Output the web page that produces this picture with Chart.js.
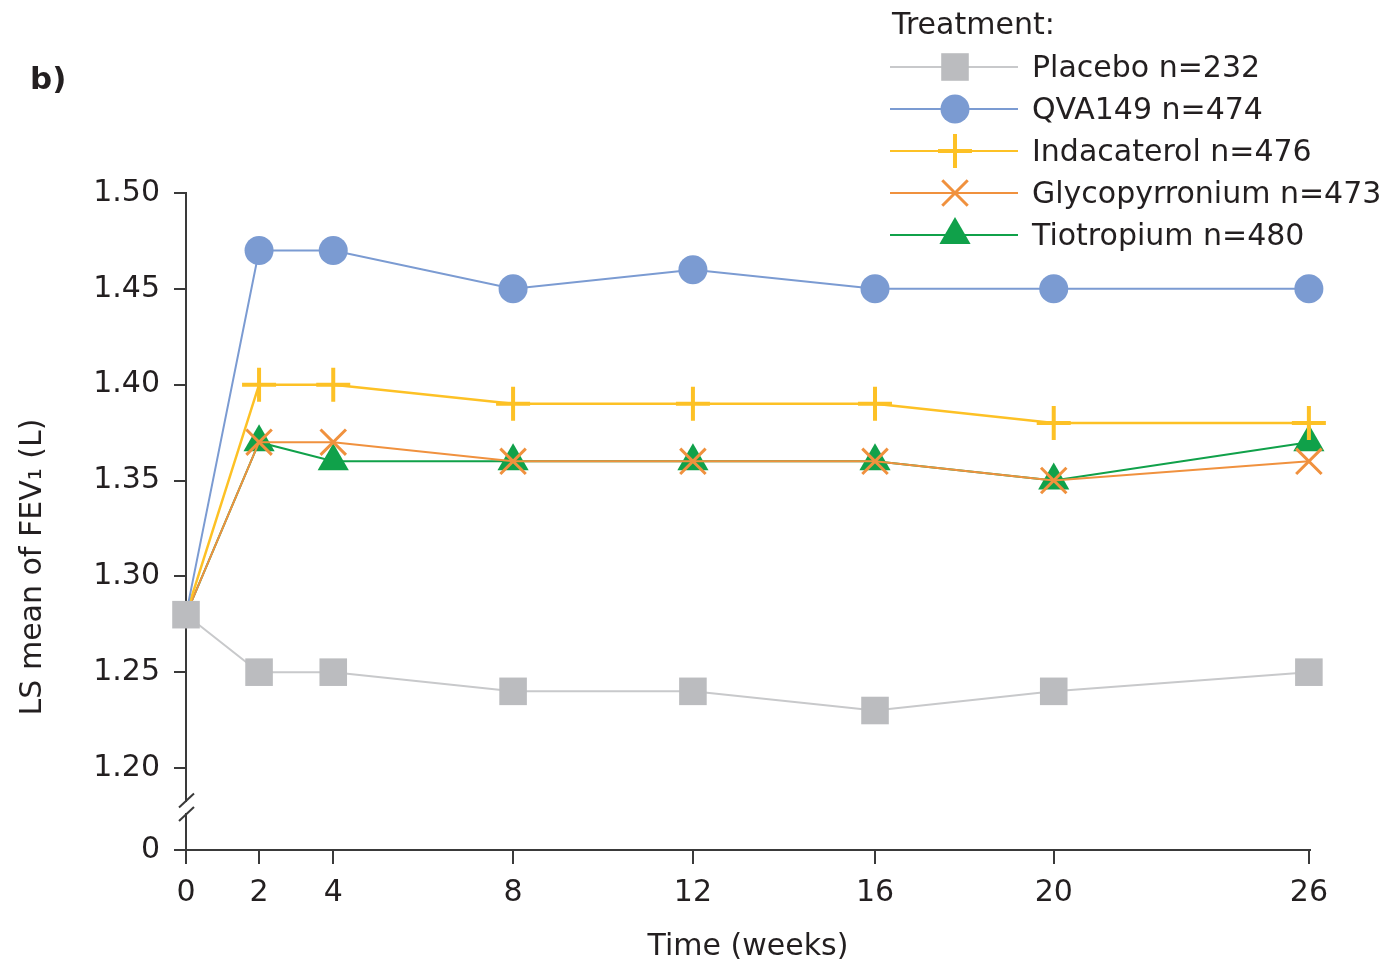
<!DOCTYPE html>
<html lang="en">
<head>
    <meta charset="UTF-8">
    <title>LS mean of FEV1 over time</title>
    <script src="https://cdn.jsdelivr.net/npm/chart.js"></script>
    <style>
        body, html { margin: 0; padding: 0; background: #fff; }
        #wrap { width: 1394px; height: 969px; }
    </style>
</head>
<body>
    <div id="wrap"><canvas id="fev" width="1394" height="969"></canvas></div>

    <script>
        // data
        var weeks = [0, 2, 4, 8, 12, 16, 20, 26];
        var yTicks = [0, 1.20, 1.25, 1.30, 1.35, 1.40, 1.45, 1.50];

        var placebo     = [1.28, 1.25, 1.25, 1.24, 1.24, 1.23, 1.24, 1.25];
        var qva149      = [1.28, 1.47, 1.47, 1.45, 1.46, 1.45, 1.45, 1.45];
        var indacaterol = [1.28, 1.40, 1.40, 1.39, 1.39, 1.39, 1.38, 1.38];
        var glyco       = [1.28, 1.37, 1.37, 1.36, 1.36, 1.36, 1.35, 1.36];
        var tiotropium  = [1.28, 1.37, 1.36, 1.36, 1.36, 1.36, 1.35, 1.37];

        var seriesNames = ['Placebo n=232', 'QVA149 n=474', 'Indacaterol n=476', 'Glycopyrronium n=473', 'Tiotropium n=480'];

        // axis layout: where each break value sits along the axis (0..1)
        var axisStops = {
            x: { values: [0, 2, 4, 8, 12, 16, 20, 26], fracs: [0, 0.065, 0.131, 0.291, 0.451, 0.613, 0.772, 0.999] },
            y: { values: [0, 1.20, 1.50], fracs: [0, 0.1248, 1] }
        };

        var FONT = "'DejaVu Sans', sans-serif";
        var INK = '#231f20';

        // linear scale with uneven spacing between stops (also gives the y break)
        class StopScale extends Chart.LinearScale {
            toFrac(v) {
                var s = axisStops[this.id].values, f = axisStops[this.id].fracs;
                if (v <= s[0]) return f[0];
                for (var i = 1; i < s.length; i++) {
                    if (v <= s[i]) return f[i - 1] + (v - s[i - 1]) / (s[i] - s[i - 1]) * (f[i] - f[i - 1]);
                }
                return f[f.length - 1];
            }
            getPixelForValue(v) {
                return this.getPixelForDecimal(this.toFrac(v));
            }
        }
        StopScale.id = 'stops';
        StopScale.defaults = Chart.LinearScale.defaults;
        Chart.register(StopScale);

        function mkSet(i, data, color, style, radius, bw, lw) {
            return {
                label: seriesNames[i],
                data: data.map(function(v, k) { return { x: weeks[k], y: v }; }),
                borderColor: color,
                backgroundColor: color,
                borderWidth: lw,
                pointStyle: style,
                pointRadius: data.map(function(v, k) { return (k === 0 && i > 0) ? 0 : radius; }),
                pointHoverRadius: radius,
                pointBackgroundColor: color,
                pointBorderColor: color,
                pointBorderWidth: bw,
                tension: 0,
                clip: false
            };
        }

        var sets = [
            mkSet(0, placebo, '#bbbcbf', 'rect', 19.5, 0, 2),
            mkSet(1, qva149, '#7b9bd2', 'circle', 14.5, 0, 2),
            mkSet(2, indacaterol, '#fdc125', 'cross', 17, 4, 2.5),
            mkSet(3, glyco, '#f0913e', 'crossRot', 18, 3, 2),
            mkSet(4, tiotropium, '#10a14a', 'triangle', 18, 0, 2)
        ];
        sets[0].borderColor = '#c8c9cb';

        // texts, legend and axis break drawn on top
        var decorations = {
            id: 'decorations',
            afterDraw: function(chart) {
                var ctx = chart.ctx;
                var left = chart.chartArea.left;
                ctx.save();

                // axis break on the y axis
                ctx.fillStyle = '#fff';
                ctx.fillRect(left - 4, 802, 8, 11);
                ctx.strokeStyle = '#3a3a3a';
                ctx.lineWidth = 2;
                [800.5, 814].forEach(function(cy) {
                    ctx.beginPath();
                    ctx.moveTo(left - 7, cy + 7);
                    ctx.lineTo(left + 8, cy - 7);
                    ctx.stroke();
                });

                ctx.fillStyle = INK;
                ctx.textBaseline = 'middle';

                // panel letter
                ctx.font = 'bold 31px ' + FONT;
                ctx.textAlign = 'left';
                ctx.fillText('b)', 30, 81);

                // y title
                ctx.save();
                ctx.translate(33, 567);
                ctx.rotate(-Math.PI / 2);
                ctx.textAlign = 'center';
                ctx.font = '30px ' + FONT;
                ctx.fillText('LS mean of FEV\u2081 (L)', 0, 0);
                ctx.restore();

                // legend
                ctx.font = '30px ' + FONT;
                ctx.textAlign = 'left';
                ctx.fillText('Treatment:', 892, 26);
                chart.data.datasets.forEach(function(ds, i) {
                    var y = 67 + i * 42;
                    ctx.strokeStyle = ds.borderColor;
                    ctx.lineWidth = 2;
                    ctx.beginPath();
                    ctx.moveTo(890, y);
                    ctx.lineTo(1018, y);
                    ctx.stroke();
                    ctx.fillStyle = ds.pointBackgroundColor;
                    ctx.strokeStyle = ds.pointBorderColor;
                    ctx.lineWidth = ds.pointBorderWidth;
                    Chart.helpers.drawPoint(ctx, {
                        pointStyle: ds.pointStyle,
                        radius: ds.pointHoverRadius,
                        borderWidth: ds.pointBorderWidth,
                        rotation: 0
                    }, 955, y);
                    ctx.fillStyle = INK;
                    ctx.fillText(ds.label, 1032, y + 2);
                });
                ctx.restore();
            }
        };

        new Chart(document.getElementById('fev'), {
            type: 'line',
            data: { datasets: sets },
            plugins: [decorations],
            options: {
                responsive: false,
                animation: false,
                devicePixelRatio: 1,
                layout: { padding: { top: 193, right: 84, left: 0, bottom: 0 } },
                plugins: {
                    legend: { display: false },
                    tooltip: { enabled: false }
                },
                scales: {
                    x: {
                        type: 'stops',
                        min: 0,
                        max: 26,
                        afterFit: function(s) { s.height = 119; },
                        afterBuildTicks: function(s) {
                            s.ticks = weeks.map(function(v) { return { value: v }; });
                        },
                        ticks: {
                            autoSkip: false,
                            maxRotation: 0,
                            padding: 11,
                            color: INK,
                            font: { family: FONT, size: 30 },
                            callback: function(v) { return String(v); }
                        },
                        grid: { drawOnChartArea: false, drawTicks: true, tickLength: 14, color: '#3a3a3a', lineWidth: 2 },
                        border: { display: true, color: '#3a3a3a', width: 2 },
                        title: {
                            display: true,
                            text: 'Time (weeks)',
                            color: INK,
                            font: { family: FONT, size: 30 },
                            padding: { top: 0, bottom: 4 }
                        }
                    },
                    y: {
                        type: 'stops',
                        min: 0,
                        max: 1.5,
                        afterFit: function(s) { s.width = 186; },
                        afterBuildTicks: function(s) {
                            s.ticks = yTicks.map(function(v) { return { value: v }; });
                        },
                        ticks: {
                            autoSkip: false,
                            padding: 14,
                            color: INK,
                            font: { family: FONT, size: 30 },
                            callback: function(v) { return v === 0 ? '0' : v.toFixed(2); }
                        },
                        grid: { drawOnChartArea: false, drawTicks: true, tickLength: 12, color: '#3a3a3a', lineWidth: 2 },
                        border: { display: true, color: '#3a3a3a', width: 2 }
                    }
                }
            }
        });
    </script>
</body>
</html>
